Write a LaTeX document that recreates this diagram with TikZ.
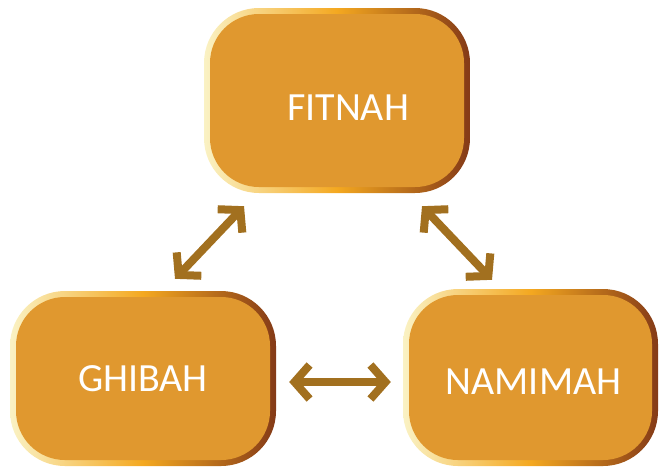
\documentclass[tikz,border=0pt]{standalone}
\usepackage{fontspec}
\setmainfont{Carlito}
\usetikzlibrary{calc,arrows.meta}
\definecolor{boxfill}{HTML}{E0982F}
\definecolor{edgelight}{HTML}{FAF2C4}
\definecolor{edgemid}{HTML}{F4A820}
\definecolor{edgedark}{HTML}{843A17}
\definecolor{arrowc}{HTML}{A2701F}
\tikzset{
  box/.style={rectangle, rounded corners=55pt, inner sep=0pt,
    left color=edgelight, right color=edgedark, middle color=edgemid,
    text=white, font=\fontsize{40}{44}\selectfont,
    path picture={\fill[boxfill, rounded corners=49pt]
      ($(path picture bounding box.north west)+(6pt,-6pt)$) rectangle
      ($(path picture bounding box.south east)+(-6pt,6pt)$);}},
  lbl/.style={text=white, font=\fontsize{40}{44}\selectfont, inner sep=0pt},
  link/.style={draw=arrowc, line width=8pt,
    {Straight Barb[length=15pt, width=34pt, line join=miter, line cap=butt]}-{Straight Barb[length=15pt, width=34pt, line join=miter, line cap=butt]}},
}
\begin{document}
\begin{tikzpicture}[x=1pt, y=1pt]
  \useasboundingbox (0,0) rectangle (660,-467);

  % the three boxes
  \node[box, minimum width=266pt, minimum height=185pt,
    label={[lbl, xshift=11pt, yshift=-7pt]center:FITNAH}] (fitnah) at (337,-100.5) {};
  \node[box, minimum width=266pt, minimum height=175pt] (ghibah) at (143,-378.5) {GHIBAH};
  \node[box, minimum width=255pt, minimum height=177pt,
    label={[lbl, xshift=3pt, yshift=-4pt]center:NAMIMAH}] (namimah) at (530.5,-377.5) {};

  % links
  \draw[link] ($(ghibah.north)+(32,12)$) -- ($(fitnah.south)+(-93,-13)$);
  \draw[link] ($(fitnah.south)+(85,-13)$) -- ($(namimah.north)+(-38.5,9)$);
  \draw[link] ($(ghibah.east)+(13,-3.5)$) -- ($(namimah.west)+(-12,-4.5)$);
\end{tikzpicture}
\end{document}
